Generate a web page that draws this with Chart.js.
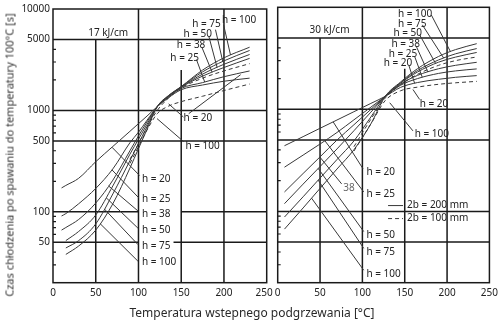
<!DOCTYPE html>
<html>
<head>
<meta charset="utf-8">
<script src="https://cdn.jsdelivr.net/npm/chart.js@4/dist/chart.umd.min.js"></script>
<style>
  html, body { margin: 0; padding: 0; background: #fff; }
  #wrap { position: relative; width: 502px; height: 325px; overflow: hidden; font-family: "Noto Sans", sans-serif; color: #2a2a2a; }
  canvas { position: absolute; top: 0; }
  #chartL { left: 0; }
  #chartR { left: 262px; }
  .ytitle { position: absolute; left: 9px; top: 155px; transform: translate(-50%, -50%) rotate(-90deg); white-space: nowrap; font-size: 11px; color: #333; }
  .xtitle { position: absolute; left: 252px; top: 312px; transform: translate(-50%, -50%); white-space: nowrap; font-size: 12px; color: #2a2a2a; }
</style>
</head>
<body>
<div id="wrap">
  <canvas id="chartL" width="290" height="325"></canvas>
  <canvas id="chartR" width="240" height="325"></canvas>
  <div class="ytitle">Czas chłodzenia po spawaniu do temperatury 100°C [s]</div>
  <div class="xtitle">Temperatura wstepnego podgrzewania [°C]</div>
</div>
<script>
// Axis ticks
const xTicks = [0, 50, 100, 150, 200, 250];
const yTicks = [50, 100, 500, 1000, 5000, 10000];
const yMinor = [30, 40, 60, 70, 80, 90, 200, 300, 400, 600, 700, 800, 900, 2000, 3000, 4000];

// Heat input 17 kJ/cm: preheat temperature [°C] and cooling time [s]
const tempL  = [10, 15, 30, 50, 70, 90, 100, 110, 122, 135, 150, 175, 200, 230];
const L_h20  = [172, 182, 214, 312, 441, 622, 740, 880, 1090, 1330, 1600, 1780, 1940, 2080];
const L_h25  = [91, 96, 120, 170, 265, 480, 610, 800, 1090, 1350, 1650, 1880, 2150, 2450];
const L_h38  = [66, 70, 84, 122, 205, 400, 560, 770, 1090, 1370, 1690, 2180, 2650, 3260];
const L_h50  = [null, 52, 64, 93, 180, 370, 520, 730, 1090, 1380, 1700, 2280, 2850, 3560];
const L_h75  = [null, 44, 52, 76, 150, 320, 470, 690, 1090, 1390, 1710, 2400, 3080, 3900];
const L_h100 = [null, 38, 46, 66, 120, 270, 420, 650, 1090, 1400, 1720, 2500, 3300, 4200];
const L_n1   = [null, null, null, null, null, 330, 470, 680, 1000, 1320, 1660, 2080, 2450, 2890];
const L_n2   = [null, null, null, null, null, 300, 440, 640, 930, 1100, 1220, 1380, 1570, 1820];

// Heat input 30 kJ/cm
const tempR  = [8, 30, 50, 70, 90, 110, 127, 145, 165, 190, 210, 235];
const R_h20  = [440, 540, 652, 786, 948, 1143, 1340, 1640, 1830, 1970, 2060, 2140];
const R_h25  = [271, 356, 457, 593, 789, 1050, 1340, 1720, 2000, 2250, 2380, 2490];
const R_h38  = [155, 235, 342, 500, 706, 998, 1340, 1760, 2150, 2500, 2700, 2890];
const R_h50  = [119, 185, 275, 409, 617, 938, 1340, 1800, 2320, 2900, 3250, 3610];
const R_h75  = [88, 139, 212, 322, 490, 841, 1340, 1820, 2400, 3050, 3500, 3940];
const R_h100 = [67, 108, 168, 260, 402, 720, 1340, 1850, 2500, 3300, 3850, 4400];
const R_n1   = [null, null, null, null, 430, 800, 1290, 1740, 2200, 2700, 3000, 3260];
const R_n2   = [null, null, null, null, 390, 720, 1220, 1520, 1650, 1760, 1820, 1880];

// Series tables: solid = plate width 2b = 200 mm, dashed = 2b = 100 mm
const seriesL = {
  h20: { t: tempL, v: L_h20 }, h25: { t: tempL, v: L_h25 }, h38: { t: tempL, v: L_h38 },
  h50: { t: tempL, v: L_h50 }, h75: { t: tempL, v: L_h75 }, h100: { t: tempL, v: L_h100 },
  n1: { t: tempL, v: L_n1, dashed: true }, n2: { t: tempL, v: L_n2, dashed: true }
};
const seriesR = {
  h20: { t: tempR, v: R_h20 }, h25: { t: tempR, v: R_h25 }, h38: { t: tempR, v: R_h38 },
  h50: { t: tempR, v: R_h50 }, h75: { t: tempR, v: R_h75 }, h100: { t: tempR, v: R_h100 },
  n1: { t: tempR, v: R_n1, dashed: true }, n2: { t: tempR, v: R_n2, dashed: true }
};

// Panel furniture (data coordinates)
const panelL = {
  title: { text: '17 kJ/cm', x: 64.6, y: 5780 },
  vGrid: [[50, 20, 5000], [100, 20, 10000], [150, 20, 2500], [200, 20, 10000]],
  hGrid: [[5000, 0, 250], [1000, 0, 250], [500, 0, 250], [100, 0, 100], [100, 150, 250], [50, 0, 100], [50, 141, 250]],
  labels: [
    ['h = 20', 104, 211], ['h = 25', 104, 133], ['h = 38', 104, 95], ['h = 50', 104, 66],
    ['h = 75', 104, 46], ['h = 100', 104, 32],
    ['h = 20', 152.8, 830], ['h = 100', 155, 440],
    ['h = 25', 137.3, 3280], ['h = 38', 144.8, 4360], ['h = 50', 152.6, 5690],
    ['h = 75', 162.8, 7030], ['h = 100', 197.7, 7740]
  ],
  leaders: [
    { on: 'h20', at: 69, to: [101.3, 228] },
    { on: 'h25', at: 69, to: [100.1, 138] },
    { on: 'h38', at: 65, to: [99.4, 102] },
    { on: 'h50', at: 62, to: [99.4, 69] },
    { on: 'h75', at: 60, to: [99.4, 47.5] },
    { on: 'h100', at: 55, to: [99.4, 32.6] },
    { from: [135.3, 1160], to: [152.6, 860] },
    { from: [158.8, 929], to: [219.5, 2250] },
    { from: [121.7, 830], to: [153, 491] },
    { from: [199.6, 6980], on: 'h100', at: 207.7 },
    { from: [190.1, 6250], on: 'h75', at: 198.6 },
    { from: [182.3, 5370], on: 'h50', at: 192 },
    { from: [174.5, 4130], on: 'h38', at: 186.2 },
    { from: [167.8, 3180], on: 'h25', at: 177.5 }
  ]
};
const panelR = {
  title: { text: '30 kJ/cm', x: 61.2, y: 5970 },
  vGrid: [[50, 20, 5000], [100, 20, 10000], [150, 20, 2500], [200, 20, 10000]],
  hGrid: [[5000, 0, 250], [1000, 0, 250], [500, 0, 250], [100, 0, 250], [50, 0, 250]],
  labels: [
    ['h = 20', 104.8, 242], ['h = 25', 104.8, 146], ['h = 50', 104.8, 58.3],
    ['h = 75', 104.8, 40.2], ['h = 100', 104.8, 24.2], ['38', 77.3, 170, '#666'],
    ['h = 20', 167.6, 1120], ['h = 100', 161.7, 571],
    ['h = 100', 142, 8610], ['h = 75', 142, 6810], ['h = 50', 136.7, 5580],
    ['h = 38', 134.3, 4360], ['h = 25', 131.1, 3480], ['h = 20', 125.2, 2850]
  ],
  leaders: [
    { on: 'h20', at: 65.5, to: [100.8, 261] },
    { on: 'h25', at: 55.7, to: [101.6, 155] },
    { on: 'h38', at: 49.8, to: [75.5, 186] },
    { on: 'h50', at: 47.8, to: [101.6, 63.4] },
    { on: 'h75', at: 47.8, to: [101.6, 43.4] },
    { on: 'h100', at: 40, to: [101.6, 26.5] },
    { from: [159.7, 1565], to: [167.6, 1250] },
    { from: [132.3, 1160], to: [159.7, 615] },
    { from: [181.4, 8410], on: 'h100', at: 204 },
    { from: [170.8, 6730], on: 'h75', at: 196 },
    { from: [167.6, 5370], on: 'h50', at: 186.5 },
    { from: [163.7, 4130], on: 'h38', at: 177.4 },
    { from: [161.7, 3300], on: 'h25', at: 170.8 },
    { from: [155, 2680], on: 'h20', at: 161.7 }
  ],
  legend: [
    { text: '2b = 200 mm', x0: 130.3, x1: 148, tx: 152.8, y: 114, dashed: false },
    { text: '2b = 100 mm', x0: 130.3, x1: 148, tx: 152.8, y: 85, dashed: true }
  ]
};

const FONT = '"Noto Sans", sans-serif';
const INK = '#222';
const CURVE = '#383838';
const DASH = [4, 3];

// Log-linear reading of a series at a given temperature
function valueAt(s, xv) {
  for (let i = 0; i < s.t.length - 1; i++) {
    const a = s.v[i], b = s.v[i + 1];
    if (a == null || b == null) continue;
    if (xv >= s.t[i] && xv <= s.t[i + 1]) {
      const f = (xv - s.t[i]) / (s.t[i + 1] - s.t[i]);
      return Math.pow(10, Math.log10(a) + f * (Math.log10(b) - Math.log10(a)));
    }
  }
  return null;
}

function decor(panel, series) {
  return {
    id: 'decor',
    beforeDatasetsDraw(chart) {
      const { ctx, chartArea: a, scales: { x, y } } = chart;
      ctx.save();
      ctx.strokeStyle = '#1a1a1a';
      ctx.lineWidth = 1.5;
      ctx.beginPath();
      panel.vGrid.forEach(([xv, y0, y1]) => {
        const px = x.getPixelForValue(xv);
        ctx.moveTo(px, y.getPixelForValue(y0));
        ctx.lineTo(px, y.getPixelForValue(y1));
      });
      panel.hGrid.forEach(([yv, x0, x1]) => {
        const py = y.getPixelForValue(yv);
        ctx.moveTo(x.getPixelForValue(x0), py);
        ctx.lineTo(x.getPixelForValue(x1), py);
      });
      ctx.stroke();
      ctx.strokeRect(a.left, a.top, a.right - a.left, a.bottom - a.top);
      ctx.lineWidth = 1.2;
      ctx.beginPath();
      yMinor.forEach(v => {
        const py = y.getPixelForValue(v);
        ctx.moveTo(a.left, py);
        ctx.lineTo(a.left + 3, py);
      });
      ctx.stroke();
      ctx.restore();
    },
    afterDatasetsDraw(chart) {
      const { ctx, scales: { x, y } } = chart;
      const P = (xv, yv) => [x.getPixelForValue(xv), y.getPixelForValue(yv)];
      ctx.save();
      // leader lines
      ctx.strokeStyle = CURVE;
      ctx.lineWidth = 1;
      panel.leaders.forEach(l => {
        const onCurve = l.on ? [l.at, valueAt(series[l.on], l.at)] : null;
        const p0 = l.from ? P(...l.from) : P(...onCurve);
        const p1 = l.to ? P(...l.to) : P(...onCurve);
        ctx.beginPath();
        ctx.moveTo(p0[0], p0[1]);
        ctx.lineTo(p1[0], p1[1]);
        ctx.stroke();
      });
      // curve labels
      ctx.font = '10px ' + FONT;
      ctx.textAlign = 'left';
      ctx.textBaseline = 'middle';
      panel.labels.forEach(([txt, xv, yv, col]) => {
        const [px, py] = P(xv, yv);
        ctx.fillStyle = col || INK;
        ctx.fillText(txt, px, py);
      });
      // panel heading
      ctx.fillStyle = INK;
      ctx.textAlign = 'center';
      const [tx, ty] = P(panel.title.x, panel.title.y);
      ctx.fillText(panel.title.text, tx, ty);
      // line-style key
      if (panel.legend) {
        ctx.textAlign = 'left';
        panel.legend.forEach(k => {
          const [a0, py] = P(k.x0, k.y);
          const [a1] = P(k.x1, k.y);
          ctx.setLineDash(k.dashed ? DASH : []);
          ctx.beginPath();
          ctx.moveTo(a0, py);
          ctx.lineTo(a1, py);
          ctx.stroke();
          ctx.setLineDash([]);
          ctx.fillText(k.text, P(k.tx, k.y)[0], py);
        });
      }
      ctx.restore();
    }
  };
}

function datasets(series) {
  return Object.keys(series).map(key => {
    const s = series[key];
    return {
      label: key,
      data: s.t.map((xv, i) => ({ x: xv, y: s.v[i] })),
      borderColor: CURVE,
      borderWidth: 1,
      borderDash: s.dashed ? DASH : [],
      pointRadius: 0,
      fill: false,
      cubicInterpolationMode: 'monotone'
    };
  });
}

function build(id, series, panel, o) {
  return new Chart(document.getElementById(id), {
    type: 'line',
    data: { datasets: datasets(series) },
    options: {
      responsive: false,
      animation: false,
      devicePixelRatio: 1,
      layout: { padding: { left: 0, right: o.padRight, top: 7.3, bottom: 0 } },
      plugins: { legend: { display: false }, tooltip: { enabled: false } },
      scales: {
        x: {
          type: 'linear', min: 0, max: 250,
          afterBuildTicks: s => { s.ticks = xTicks.map(v => ({ value: v })); },
          afterFit: s => { s.height = 42.3; },
          grid: { display: false, drawTicks: false },
          border: { display: false },
          ticks: { padding: 4, color: INK, font: { family: FONT, size: 10 }, maxRotation: 0, callback: o.xLabel }
        },
        y: {
          type: 'logarithmic', min: 20, max: 10000,
          afterBuildTicks: s => { s.ticks = yTicks.map(v => ({ value: v })); },
          afterFit: s => { s.width = o.yWidth; },
          grid: { display: false, drawTicks: false },
          border: { display: false },
          ticks: { display: o.yLabels, padding: 3, color: INK, font: { family: FONT, size: 10 }, callback: v => String(v) }
        }
      }
    },
    plugins: [decor(panel, series)]
  });
}

// the last label of the left panel leaves room for the first one of the right panel
build('chartL', seriesL, panelL, { padRight: 23.3, yWidth: 53, yLabels: true,
  xLabel: v => (v === 250 ? '250  ' : String(v)) });
build('chartR', seriesR, panelR, { padRight: 12, yWidth: 15.7, yLabels: false,
  xLabel: v => String(v) });
</script>
</body>
</html>
